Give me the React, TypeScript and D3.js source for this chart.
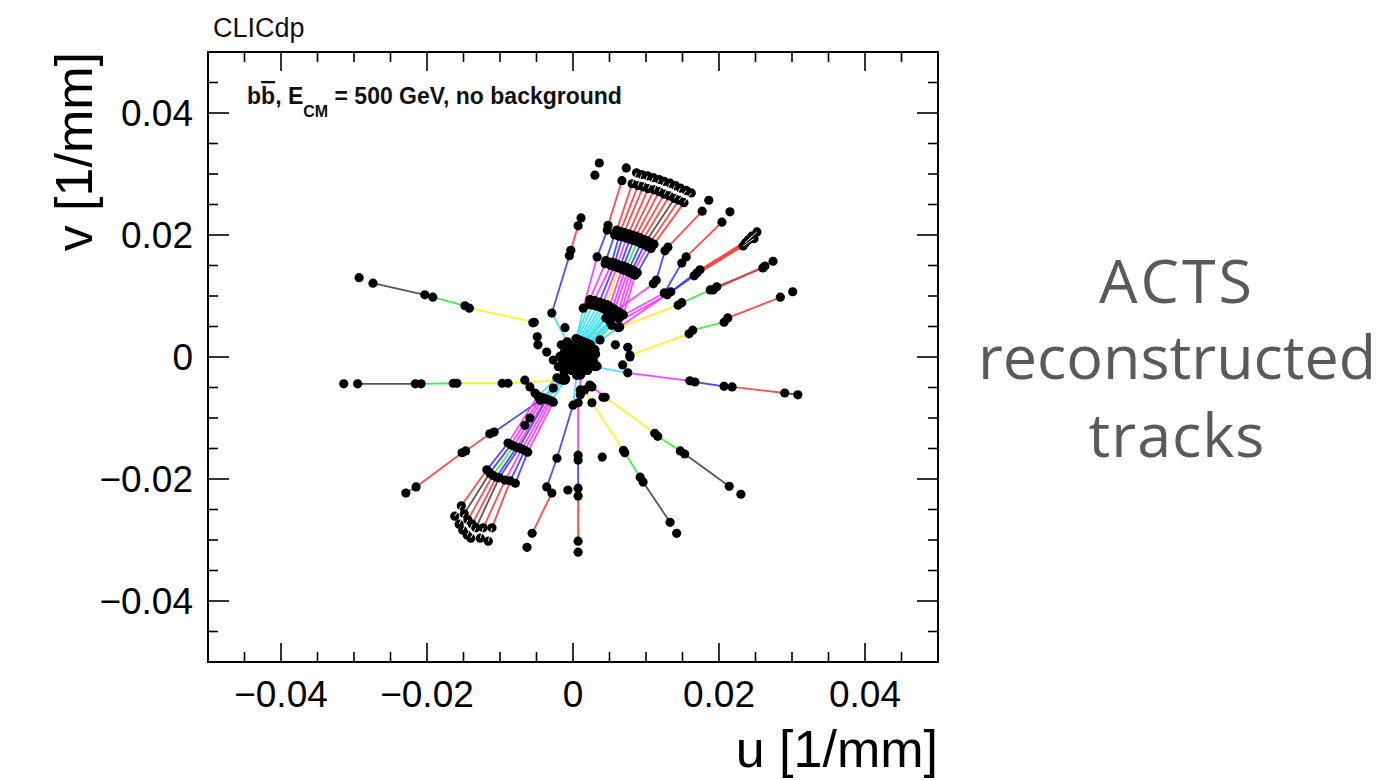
import React from 'react';
import * as d3 from 'd3';

// ---- axis data ----
const axisDomain: [number, number] = [-0.05, 0.05];
const majorTicks = [-0.04, -0.02, 0, 0.02, 0.04];
const majorTickLabels = ['\u22120.04', '\u22120.02', '0', '0.02', '0.04'];

// ---- track hits (u, v) in 1/mm ----
const trackHits: [number, number][][] = [
  // left tracks
  [[-0.0293, 0.0130], [-0.0274, 0.0121], [-0.0203, 0.0102], [-0.0192, 0.0098], [-0.0148, 0.0084], [-0.0142, 0.0080], [-0.0053, 0.0057]],
  [[-0.0314, -0.0044], [-0.0295, -0.0044], [-0.0216, -0.0044], [-0.0208, -0.0044], [-0.0164, -0.0043], [-0.0159, -0.0043], [-0.0097, -0.0043], [-0.0089, -0.0043], [-0.0011, -0.0038]],
  [[-0.0229, -0.0223], [-0.0215, -0.0213], [-0.0152, -0.0157], [-0.0147, -0.0154], [-0.0114, -0.0126], [-0.0108, -0.0123], [-0.0045, -0.0071], [-0.0012, -0.0034]],
  // lower-left bundle
  [[-0.0162, -0.0261], [-0.0153, -0.0244], [-0.0118, -0.0185], [-0.0089, -0.0141], [-0.0048, -0.0064], [-0.0022, -0.0034]],
  [[-0.0156, -0.0274], [-0.0149, -0.0257], [-0.0114, -0.0190], [-0.0085, -0.0144], [-0.0044, -0.0066]],
  [[-0.0151, -0.0284], [-0.0144, -0.0267], [-0.0110, -0.0194], [-0.0081, -0.0146], [-0.0041, -0.0067], [-0.0018, -0.0036]],
  [[-0.0145, -0.0292], [-0.0138, -0.0274], [-0.0105, -0.0197], [-0.0077, -0.0148], [-0.0038, -0.0069]],
  [[-0.0140, -0.0297], [-0.0133, -0.0280], [-0.0101, -0.0198], [-0.0074, -0.0149], [-0.0036, -0.0069], [-0.0014, -0.0038]],
  [[-0.0127, -0.0297], [-0.0123, -0.0280], [-0.0093, -0.0202], [-0.0070, -0.0151], [-0.0033, -0.0071]],
  [[-0.0116, -0.0302], [-0.0111, -0.0280], [-0.0086, -0.0203], [-0.0066, -0.0153], [-0.0030, -0.0072], [-0.0010, -0.0036]],
  [[-0.0079, -0.0207], [-0.0062, -0.0156], [-0.0027, -0.0074]],
  // lower tracks
  [[0.0005, -0.0030], [0.0000, -0.0079], [-0.0022, -0.0166], [-0.0036, -0.0213], [-0.0029, -0.0223], [-0.0056, -0.0289], [-0.0063, -0.0312]],
  [[0.0010, -0.0030], [0.0010, -0.0062], [0.0007, -0.0075], [0.0007, -0.0161], [0.0007, -0.0169], [0.0007, -0.0215], [0.0007, -0.0228], [0.0007, -0.0302], [0.0007, -0.0320]],
  [[0.0016, -0.0054], [0.0026, -0.0075], [0.0069, -0.0153], [0.0071, -0.0157], [0.0092, -0.0197], [0.0096, -0.0205], [0.0133, -0.0271], [0.0142, -0.0289]],
  [[0.0023, -0.0046], [0.0044, -0.0066], [0.0112, -0.0125], [0.0116, -0.0130], [0.0147, -0.0154], [0.0153, -0.0159], [0.0214, -0.0212], [0.0230, -0.0225]],
  // right tracks
  [[0.0030, -0.0016], [0.0075, -0.0026], [0.0160, -0.0039], [0.0167, -0.0041], [0.0207, -0.0048], [0.0218, -0.0049], [0.0290, -0.0059], [0.0308, -0.0062]],
  [[0.0078, 0.0003], [0.0159, 0.0038], [0.0164, 0.0044], [0.0207, 0.0057], [0.0212, 0.0064], [0.0284, 0.0098], [0.0301, 0.0107]],
  [[0.0022, 0.0018], [0.0064, 0.0049], [0.0144, 0.0085], [0.0149, 0.0089], [0.0188, 0.0110], [0.0197, 0.0115], [0.0260, 0.0146], [0.0274, 0.0157]],
  [[0.0192, 0.0110], [0.0263, 0.0149]],
  [[0.0020, 0.0012], [0.0053, 0.0052], [0.0129, 0.0102], [0.0166, 0.0133], [0.0233, 0.0182], [0.0248, 0.0194]],
  [[0.0020, 0.0012], [0.0062, 0.0048], [0.0134, 0.0107], [0.0174, 0.0143], [0.0240, 0.0192], [0.0252, 0.0205]],
  [[0.0170, 0.0138], [0.0236, 0.0187], [0.0245, 0.0198]],
  [[0.0018, 0.0020], [0.0051, 0.0057], [0.0125, 0.0105], [0.0149, 0.0154], [0.0155, 0.0164], [0.0204, 0.0221], [0.0215, 0.0238]],
  [[0.0015, 0.0024], [0.0045, 0.0064], [0.0110, 0.0120], [0.0114, 0.0126], [0.0126, 0.0174], [0.0130, 0.0180], [0.0177, 0.0239], [0.0186, 0.0257]],
  // upper tracks
  [[0.0003, 0.0020], [0.0014, 0.0080], [0.0033, 0.0164], [0.0047, 0.0208], [0.0048, 0.0216], [0.0067, 0.0289], [0.0073, 0.0310]],
  [[-0.0008, 0.0025], [-0.0029, 0.0072], [-0.0005, 0.0166], [-0.0003, 0.0175], [0.0007, 0.0215], [0.0011, 0.0228]],
  // upper bundle
  [[0.0087, 0.0302], [0.0081, 0.0284], [0.0060, 0.0208], [0.0057, 0.0200], [0.0045, 0.0158], [0.0044, 0.0153], [0.0023, 0.0094], [0.0022, 0.0086], [0.0004, 0.0030]],
  [[0.0094, 0.0299], [0.0089, 0.0281], [0.0065, 0.0206], [0.0063, 0.0198], [0.0053, 0.0155], [0.0052, 0.0150], [0.0029, 0.0093], [0.0027, 0.0085], [0.0006, 0.0029]],
  [[0.0102, 0.0297], [0.0096, 0.0279], [0.0070, 0.0204], [0.0068, 0.0197], [0.0057, 0.0154], [0.0056, 0.0149], [0.0036, 0.0090], [0.0033, 0.0083], [0.0008, 0.0028]],
  [[0.0110, 0.0294], [0.0103, 0.0276], [0.0076, 0.0202], [0.0073, 0.0195], [0.0061, 0.0152], [0.0060, 0.0147], [0.0041, 0.0088], [0.0038, 0.0081], [0.0010, 0.0027]],
  [[0.0118, 0.0291], [0.0111, 0.0274], [0.0081, 0.0200], [0.0078, 0.0193], [0.0065, 0.0150], [0.0063, 0.0146], [0.0046, 0.0086], [0.0042, 0.0079], [0.0012, 0.0026]],
  [[0.0125, 0.0288], [0.0118, 0.0271], [0.0086, 0.0198], [0.0083, 0.0191], [0.0069, 0.0149], [0.0067, 0.0144], [0.0050, 0.0083], [0.0046, 0.0076], [0.0014, 0.0025]],
  [[0.0133, 0.0285], [0.0125, 0.0267], [0.0091, 0.0196], [0.0088, 0.0189], [0.0073, 0.0147], [0.0071, 0.0142], [0.0054, 0.0080], [0.0050, 0.0074], [0.0016, 0.0024]],
  [[0.0140, 0.0281], [0.0132, 0.0264], [0.0096, 0.0193], [0.0093, 0.0186], [0.0077, 0.0145], [0.0075, 0.0140], [0.0057, 0.0078], [0.0052, 0.0072], [0.0018, 0.0023]],
  [[0.0147, 0.0277], [0.0139, 0.0260], [0.0101, 0.0191], [0.0098, 0.0184], [0.0081, 0.0143], [0.0078, 0.0138], [0.0062, 0.0074], [0.0057, 0.0068], [0.0020, 0.0022]],
  [[0.0155, 0.0273], [0.0145, 0.0257], [0.0106, 0.0188], [0.0102, 0.0181], [0.0084, 0.0141], [0.0082, 0.0136], [0.0065, 0.0072], [0.0060, 0.0066], [0.0022, 0.0021]],
  [[0.0162, 0.0269], [0.0152, 0.0253], [0.0111, 0.0185], [0.0107, 0.0178], [0.0088, 0.0138], [0.0085, 0.0134], [0.0069, 0.0069], [0.0063, 0.0063], [0.0024, 0.0020]],
];

// segment type between consecutive hits ('.' = no segment drawn)
const trackSegments: string[] = [
  '.k.g.y', '.k.g.y.y', 'rr.r.bm',
  'wrbmc', 'wkbm', 'wrgmc', 'wrbm', 'wkbbc', 'wrmm', 'wrbmc', 'bm',
  'cbb.r.', 'm.m.b.r.', 'yy.g.k.', 'my.g.k.',
  'cm.b.rk', 'y.g.r.', 'yy.g.k.', 'r', 'cmbrw', 'cmbrw', 'rw', 'cmb.r.', 'cm.b.r.',
  'cmb.r.', 'cb.r.',
  'wr.b.m.c', 'wr.b.m.c', 'wr.b.b.c', 'wr.m.m.c', 'wr.b.y.c', 'wr.b.m.c',
  'wr.g.m.c', 'wr.b.m.c', 'wk.b.m.c', 'wr.m.m.c', 'wr.b.m.c',
];

// hits not attached to a drawn track
const looseHits: [number, number][] = [
  [0.0036, 0.0318], [0.0030, 0.0298],
  [-0.0055, 0.0056], [-0.0049, 0.0033], [-0.0048, 0.0020], [-0.0036, 0.0008], [-0.0027, -0.0005], [-0.0011, 0.0048],
  [0.0037, 0.0028], [0.0058, 0.0020], [0.0075, 0.0016], [0.0078, 0.0000], [0.0068, -0.0013],
  [-0.0066, -0.0038], [-0.0059, -0.0049], [-0.0052, -0.0059], [-0.0027, -0.0051], [0.0010, -0.0054], [0.0026, -0.0049], [0.0041, -0.0066],
  [-0.0059, -0.0100], [-0.0066, -0.0112], [-0.0007, -0.0218], [0.0040, -0.0164],
  [0.0000, 0.0000], [0.0005, 0.0008], [-0.0008, 0.0004], [0.0012, -0.0005], [-0.0004, -0.0012], [0.0018, 0.0010],
  [0.0008, -0.0018], [-0.0014, -0.0008], [0.0022, -0.0012], [-0.0010, 0.0014], [0.0003, 0.0016], [0.0015, 0.0019],
  [-0.0018, 0.0001], [0.0026, 0.0003], [-0.0002, -0.0022], [0.0011, -0.0028], [-0.0012, -0.0025], [0.0020, -0.0022],
  [0.0028, -0.0006], [-0.0020, -0.0016], [0.0007, 0.0024], [-0.0006, 0.0021], [0.0024, 0.0016], [0.0030, 0.0012], [-0.0016, 0.0020],
  [0.0004, -0.0006], [-0.0006, -0.0004], [0.0009, 0.0003], [0.0016, -0.0014], [-0.0009, -0.0018], [0.0005, -0.0012],
  [0.0019, 0.0002], [-0.0012, 0.0008], [0.0013, 0.0013], [-0.0003, 0.0010], [0.0023, -0.0003], [0.0004, -0.0025],
  [0.0033, -0.0015], [0.0031, 0.0005],
];

const segmentColor: Record<string, string> = {
  c: '#33e0ff', m: '#ff33ff', b: '#3a3aff', r: '#ff3a3a', k: '#444444', g: '#33ee33', y: '#ffee22', w: '#ffffff',
};

const FONT = '"Liberation Sans", Arial, Helvetica, sans-serif';

export default function App() {
  const left = 208, right = 938, top = 52, bottom = 662;
  const x = d3.scaleLinear().domain(axisDomain).range([left, right]);
  const y = d3.scaleLinear().domain(axisDomain).range([bottom, top]);
  const minorX = x.ticks(20);
  const minorY = y.ticks(20);
  const isMajor = (t: number) => majorTicks.some((m) => Math.abs(m - t) < 1e-9);

  const segs: { x1: number; y1: number; x2: number; y2: number; c: string; key: string }[] = [];
  trackHits.forEach((hits, ti) => {
    const code = trackSegments[ti] || '';
    for (let i = 0; i < hits.length - 1; i++) {
      const c = code[i];
      if (!c || c === '.') continue;
      segs.push({ x1: x(hits[i][0]), y1: y(hits[i][1]), x2: x(hits[i + 1][0]), y2: y(hits[i + 1][1]), c, key: `${ti}-${i}` });
    }
  });
  const allHits = [...trackHits.flat(), ...looseHits];

  return (
    <div style={{ position: 'absolute', left: 0, top: 0 }}>
      <svg width={1393} height={780} style={{ display: 'block', background: '#fff' }}>
        {/* tracks */}
        <g>
          {segs.filter((s) => s.c !== 'w').map((s) => (
            <line key={s.key} x1={s.x1} y1={s.y1} x2={s.x2} y2={s.y2} stroke={segmentColor[s.c]} strokeWidth={1.8} strokeOpacity={0.9} />
          ))}
        </g>
        <g>
          {allHits.map((h, i) => (
            <circle key={i} cx={x(h[0])} cy={y(h[1])} r={4.6} fill="#000" />
          ))}
        </g>
        <g>
          {segs.filter((s) => s.c === 'w').map((s) => (
            <line key={s.key} x1={s.x1} y1={s.y1} x2={s.x2} y2={s.y2} stroke="#fff" strokeWidth={1} strokeOpacity={0.9} />
          ))}
        </g>

        {/* frame */}
        <rect x={left} y={top} width={right - left} height={bottom - top} fill="none" stroke="#000" strokeWidth={2} />
        {/* ticks */}
        <g stroke="#000" strokeWidth={1.6}>
          {minorX.map((t) => {
            const len = isMajor(t) ? 19 : 10;
            if (t <= axisDomain[0] || t >= axisDomain[1]) return null;
            return (
              <g key={'x' + t}>
                <line x1={x(t)} x2={x(t)} y1={bottom} y2={bottom - len} />
                <line x1={x(t)} x2={x(t)} y1={top} y2={top + len} />
              </g>
            );
          })}
          {minorY.map((t) => {
            const len = isMajor(t) ? 21 : 10;
            if (t <= axisDomain[0] || t >= axisDomain[1]) return null;
            return (
              <g key={'y' + t}>
                <line x1={left} x2={left + len} y1={y(t)} y2={y(t)} />
                <line x1={right} x2={right - len} y1={y(t)} y2={y(t)} />
              </g>
            );
          })}
        </g>
        {/* tick labels */}
        <g fontFamily={FONT} fontSize={37} fill="#000">
          {majorTicks.map((t, i) => (
            <text key={'xl' + i} x={x(t)} y={707} textAnchor="middle">{majorTickLabels[i]}</text>
          ))}
          {majorTicks.map((t, i) => (
            <text key={'yl' + i} x={193} y={y(t) + 13} textAnchor="end">{majorTickLabels[i]}</text>
          ))}
        </g>
        {/* axis titles */}
        <text x={938} y={767} textAnchor="end" fontFamily={FONT} fontSize={52}>u [1/mm]</text>
        <text transform="translate(92,52) rotate(-90)" textAnchor="end" fontFamily={FONT} fontSize={52}>v [1/mm]</text>

        {/* labels */}
        <text x={213} y={37} fontFamily={FONT} fontSize={27} fill="#111">CLICdp</text>
        <text x={247} y={104} fontFamily={FONT} fontSize={23} fontWeight="bold" fill="#111">
          <tspan>b</tspan>
          <tspan style={{ textDecoration: 'overline' }}>b</tspan>
          <tspan>, E</tspan>
          <tspan fontSize={16} dy={13}>CM</tspan>
          <tspan dy={-13}> = 500 GeV, no background</tspan>
        </text>

        <g fontFamily='"Open Sans", sans-serif' fontSize={61} fill="#5a5a5a" textAnchor="middle">
          <text x={1177} y={303} letterSpacing={3}>ACTS</text>
          <text x={1177} y={379}>reconstructed</text>
          <text x={1177} y={457} letterSpacing={1}>tracks</text>
        </g>
      </svg>
    </div>
  );
}
